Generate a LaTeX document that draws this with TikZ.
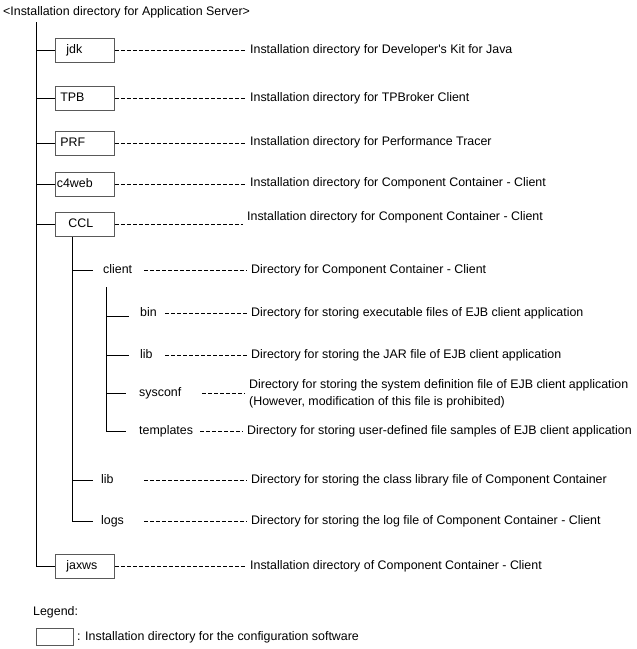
\documentclass[tikz,border=0pt]{standalone}
\usepackage{fontspec}
\setmainfont{Liberation Sans}[Ligatures=TeXOff]
\begin{document}
\begin{tikzpicture}[x=1pt,y=-1pt,
  every node/.style={font=\fontsize{12.4}{15}\selectfont, inner sep=0pt, text height=9pt, text depth=2.5pt},
  dirbox/.style={draw=black!65, line width=0.8pt, anchor=west, minimum height=24pt, inner ysep=0pt, align=left},
  txt/.style={anchor=west, align=left},
  tree/.style={draw=black, line width=0.8pt},
  dashline/.style={draw=black, line width=0.8pt, dash pattern=on 4pt off 2pt}]
\useasboundingbox (0,0) rectangle (637,649);

\node[txt] (title) at (3,12) {<Installation directory for Application Server>};
\coordinate (top) at (36,22);

% top-level boxes
\node[dirbox, inner xsep=11pt, text width=37pt] (jdk) at (55,50) {jdk};
\node[dirbox, inner xsep=5pt, text width=49pt] (tpb) at (55,98) {TPB};
\node[dirbox, inner xsep=5pt, text width=49pt] (prf) at (55,143) {PRF};
\node[dirbox, inner xsep=1.5pt, text width=56pt] (c4web) at (55,184) {c4web};
\node[dirbox, inner xsep=13pt, text width=33pt] (ccl) at (55,224.5) {CCL};
\node[dirbox, inner xsep=11pt, text width=37pt] (jaxws) at (55,566) {jaxws};

% sub entries
\node[txt, text width=41pt] (client) at (103,270) {client};
\node[txt, text width=25pt] (bin) at (140,313) {bin};
\node[txt, text width=25pt] (clib) at (140,355) {lib};
\node[txt, text width=63pt] (sysconf) at (139,393) {sysconf};
\node[txt, text width=61pt] (templates) at (139,431) {templates};
\node[txt, text width=43pt] (lib) at (101,480) {lib};
\node[txt, text width=43pt] (logs) at (101,521) {logs};

% descriptions
\node[txt] (jdkD) at (250,50) {Installation directory for Developer's Kit for Java};
\node[txt] (tpbD) at (250,98) {Installation directory for TPBroker Client};
\node[txt] (prfD) at (250,142) {Installation directory for Performance Tracer};
\node[txt] (c4webD) at (250,183) {Installation directory for Component Container - Client};
\node[txt] (cclD) at (247,217) {Installation directory for Component Container - Client};
\node[txt] (clientD) at (251,270) {Directory for Component Container - Client};
\node[txt] (binD) at (251,313) {Directory for storing executable files of EJB client application};
\node[txt] (clibD) at (251,355) {Directory for storing the JAR file of EJB client application};
\node[anchor=west, align=left, text height=, text depth=] (sysconfD) at (249,393.5) {Directory for storing the system definition file of EJB client application\\[2pt](However, modification of this file is prohibited)};
\node[txt] (templatesD) at (247,431) {Directory for storing user-defined file samples of EJB client application};
\node[txt] (libD) at (251,480) {Directory for storing the class library file of Component Container};
\node[txt] (logsD) at (251,521) {Directory for storing the log file of Component Container - Client};
\node[txt] (jaxwsD) at (250,566) {Installation directory of Component Container - Client};

% tree lines
\draw[tree] (top) |- (jaxws.west);
\foreach \n in {jdk,tpb,prf,c4web,ccl}
  \draw[tree] (top |- \n.west) -- (\n.west);
\coordinate (cclTop) at ([xshift=17pt]ccl.south west);
\draw[tree] (cclTop) |- ([xshift=-8pt]logs.west);
\draw[tree] (cclTop |- client.west) -- ([xshift=-10pt]client.west);
\draw[tree] (cclTop |- lib.west) -- ([xshift=-8pt]lib.west);
\coordinate (clTop) at (106,287);
\draw[tree] (clTop) |- ([xshift=-13pt]templates.west);
\draw[tree] ([yshift=-3pt]clTop |- bin.west) -- ([xshift=-11pt,yshift=-3pt]bin.west);
\draw[tree] (clTop |- clib.west) -- ([xshift=-11pt]clib.west);
\draw[tree] (clTop |- sysconf.west) -- ([xshift=-13pt]sysconf.west);

% dashed connectors
\foreach \n in {jdk,tpb,prf,c4web,ccl,jaxws,client,bin,clib,sysconf,templates,lib,logs}
  \draw[dashline] (\n.east) -- ([xshift=-4pt]\n.east -| \n D.west);

% legend
\node[txt] (legend) at (33,612) {Legend:};
\node[draw=black!65, line width=0.8pt, minimum width=37pt, minimum height=17pt, anchor=north west] (lbox) at (36,628) {};
\node[txt] (legendD) at (77,637) {: Installation directory for the configuration software};
\end{tikzpicture}
\end{document}
